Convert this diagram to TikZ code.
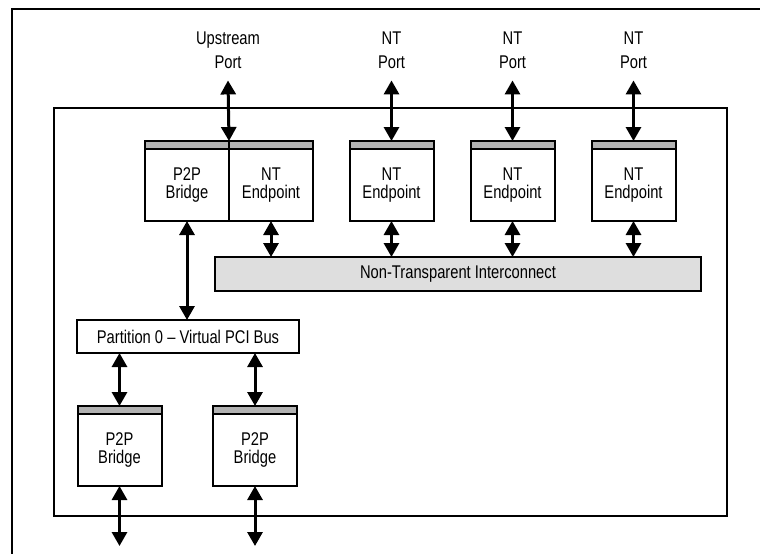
\documentclass[tikz,border=0pt]{standalone}
\usepackage{fontspec}
\setmainfont{Liberation Sans}[FakeStretch=0.8]
\usepackage{tikz}
\usetikzlibrary{arrows.meta, positioning}
\definecolor{barGray}{gray}{0.70}
\definecolor{busGray}{gray}{0.87}

\begin{document}
\begin{tikzpicture}[
        x=0.5pt, y=-0.5pt,
        frame/.style={line width=1pt},
        module/.style={draw, line width=1pt, fill=white, minimum width=42pt, minimum height=36pt,
            inner sep=0pt, outer sep=0pt, align=center, font=\fontsize{9.2}{8.6}\selectfont},
        modbar/.style={draw, line width=1pt, fill=barGray, minimum width=42pt, minimum height=4pt,
            inner sep=0pt, outer sep=0pt},
        bus/.style={draw, line width=1pt, inner sep=0pt, outer sep=0pt, font=\fontsize{9.2}{10}\selectfont},
        port/.style={align=center, inner sep=0pt, outer sep=6pt, font=\fontsize{9.2}{12}\selectfont},
        link/.style={{Triangle[width=7.5pt,length=7pt]}-{Triangle[width=7.5pt,length=7pt]}, line width=1.5pt}
    ]
    \useasboundingbox (0,0) rectangle (760,554);

    % outer and inner frames
    \draw[frame] (760,9) -- (12,9) -- (12,554);
    \draw[frame] (54,108) rectangle (727,516);

    % bridge and endpoints of the upstream side
    \node[module] (brg) at (187,185) {P2P\\Bridge};
    \node[module, right=0pt of brg] (ep1) {NT\\Endpoint};
    \foreach \Name/\X in {ep2/391.5, ep3/512.5, ep4/633.5}
        \node[module] (\Name) at (\X,185) {NT\\Endpoint};
    \node[module] (brgA) at (119.5,450) {P2P\\Bridge};
    \node[module] (brgB) at (255,450) {P2P\\Bridge};

    \foreach \Name in {brg, ep1, ep2, ep3, ep4, brgA, brgB}
        \node[modbar, above=0pt of \Name] (\Name-bar) {};

    % busses
    \node[bus, fill=busGray, minimum width=243pt, minimum height=17pt] (ntic) at (458,274)
        {Non-Transparent Interconnect};
    \node[bus, fill=white, minimum width=111pt, minimum height=16.5pt] (part) at (188,336.5)
        {Partition 0 -- Virtual PCI Bus};

    % ports
    \node[port] (upport) at (228,50) {Upstream\\Port};
    \foreach \Name/\X in {ntport2/391.5, ntport3/512.5, ntport4/633.5}
        \node[port] (\Name) at (\X,50) {NT\\Port};

    \coordinate (outA) at (119.5,546);
    \coordinate (outB) at (255,546);

    % links
    \draw[link] (upport.south) -- (brg-bar.north east);
    \foreach \From/\To in {ntport2/ep2, ntport3/ep3, ntport4/ep4}
        \draw[link] (\From.south) -- (\To-bar.north);
    \foreach \From in {ep1, ep2, ep3, ep4}
        \draw[link] (\From.south) -- (\From.south |- ntic.north);
    \draw[link] (brg.south) -- (brg.south |- part.north);
    \foreach \To in {brgA, brgB}
        \draw[link] (\To-bar.north |- part.south) -- (\To-bar.north);
    \draw[link] (brgA.south) -- (outA);
    \draw[link] (brgB.south) -- (outB);
\end{tikzpicture}
\end{document}
